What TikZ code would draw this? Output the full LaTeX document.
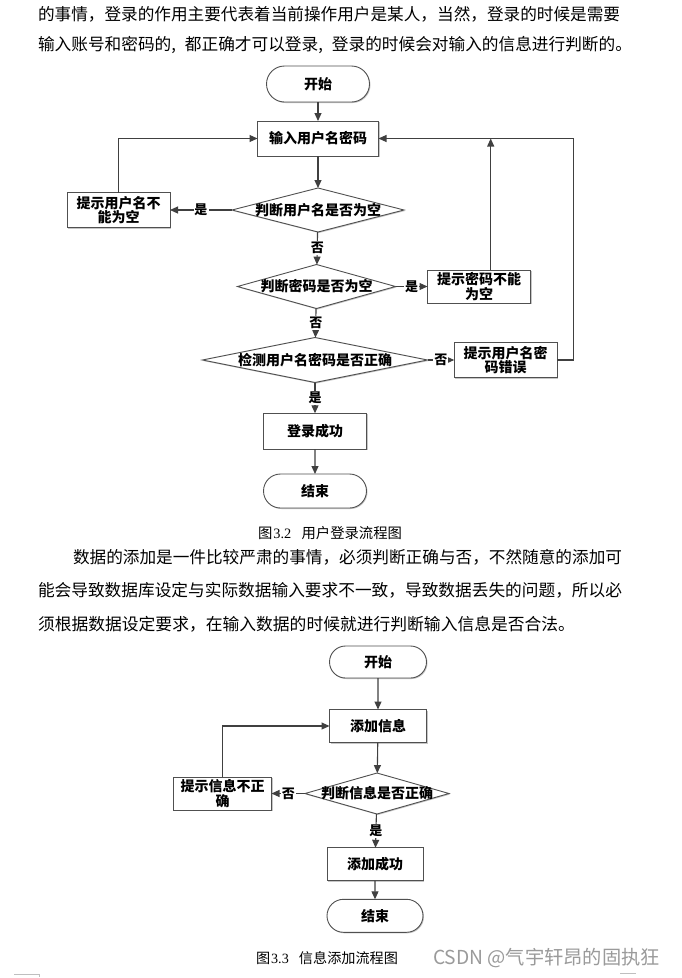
\documentclass[tikz,border=0pt]{standalone}
\usepackage{fontspec}
\usepackage{graphicx}
\setmainfont{Liberation Serif}
\newfontfamily\cjk{Noto Sans CJK SC}
\newfontfamily\capfont{Liberation Serif}
\usetikzlibrary{arrows.meta,shapes.geometric,shapes.misc,shadows}
\definecolor{lc}{HTML}{404040}
\definecolor{bc}{HTML}{505050}
\definecolor{wmc}{HTML}{9A9A9A}
\begin{document}
\begin{tikzpicture}[x=1pt,y=-1pt,
  every node/.style={inner sep=0pt, outer sep=0pt},
  nodetext/.style={font=\cjk\fontsize{14}{14.5}\selectfont\bfseries, text=black, align=center},
  shad/.style={drop shadow={shadow xshift=1pt, shadow yshift=-1pt, fill=gray!45, opacity=1}},
  box/.style={nodetext, rectangle, draw=bc, line width=0.9pt, fill=white, shad},
  term/.style={nodetext, rounded rectangle, draw=bc, line width=0.9pt, fill=white, shad},
  dia/.style={nodetext, diamond, draw=bc, line width=0.9pt, fill=white, shad},
  flow/.style={draw=lc, line width=1.1pt, -{Triangle[length=8pt,width=7pt]}},
  yn/.style={font=\cjk\fontsize{13}{13}\selectfont\bfseries, fill=white, inner sep=1pt},
  body/.style={font=\cjk\fontsize{16.7}{16.7}\selectfont, anchor=west},
  captxt/.style={font=\cjk\fontsize{14}{14}\selectfont, anchor=west},
  wm/.style={font=\cjk\fontsize{21}{21}\selectfont, text=wmc, anchor=west},
  cmark/.style={draw=gray!50, line width=0.8pt},
]
\fill[white] (0,0) rectangle (682,978);
\useasboundingbox (0,0) rectangle (682,978);

% text above
\node[body] (t1) at (38,14) {\resizebox{582pt}{!}{的事情，登录的作用主要代表着当前操作用户是某人，当然，登录的时候是需要}};
\node[body] (t2) at (38,45) {\resizebox{594pt}{!}{输入账号和密码的,\hspace{9pt}都正确才可以登录,\hspace{9pt}登录的时候会对输入的信息进行判断的。}};

% diagram 1
\node[term, minimum width=103pt, minimum height=36pt] (s1) at (318,84) {开始};
\node[box, minimum width=121pt, minimum height=35pt] (in1) at (318,138.5) {输入用户名密码};
\node[dia, minimum width=172pt, minimum height=44pt] (d1) at (318,210) {\makebox[0pt]{判断用户名是否为空}};
\node[box, minimum width=103pt, minimum height=35pt] (b1) at (118.5,210) {提示用户名不\\能为空};
\node[dia, minimum width=158pt, minimum height=44pt] (d2) at (316.5,286.5) {\makebox[0pt]{判断密码是否为空}};
\node[box, minimum width=103pt, minimum height=33pt] (b2) at (479,286.5) {提示密码不能\\为空};
\node[dia, minimum width=225pt, minimum height=45pt] (d3) at (315,360) {\makebox[0pt]{检测用户名密码是否正确}};
\node[box, minimum width=103pt, minimum height=35pt] (b3) at (505.7,360) {提示用户名密\\码错误};
\node[box, minimum width=103pt, minimum height=36pt] (ok1) at (315,431.3) {登录成功};
\node[term, minimum width=103pt, minimum height=34pt] (e1) at (315,491) {结束};

\coordinate (j2) at (490.7,138.5);
\coordinate (rc) at (573.5,138.5);

\draw[flow] (s1) -- (in1);
\draw[flow] (in1) -- (d1);
\draw[flow] (d1) -- node[yn] {是} (b1);
\draw[flow] (b1) |- (in1);
\draw[flow] (d1) -- node[yn] {否} (d2);
\draw[flow] (d2) -- node[yn] {是} (b2);
\draw[flow] ([xshift=11.7pt]b2.north) -- (j2);
\draw[flow] (d2) -- node[yn] {否} (d3);
\draw[flow] (d3) -- node[yn] {否} (b3);
\draw[flow] (b3.east) -| (rc) -- (in1.east);
\draw[flow] (d3) -- node[yn] {是} (ok1);
\draw[flow] (ok1) -- (e1);

\node[captxt] (c1) at (258,533) {\resizebox{144pt}{!}{图\hspace{1pt}{\capfont 3.2}\hspace{10pt}用户登录流程图}};

% paragraph
\node[body] (p1) at (73,557) {\resizebox{549pt}{!}{数据的添加是一件比较严肃的事情，必须判断正确与否，不然随意的添加可}};
\node[body] (p2) at (38,590) {\resizebox{584pt}{!}{能会导致数据库设定与实际数据输入要求不一致，导致数据丢失的问题，所以必}};
\node[body] (p3) at (38,624) {\resizebox{537pt}{!}{须根据数据设定要求，在输入数据的时候就进行判断输入信息是否合法。}};

% diagram 2
\node[term, minimum width=97pt, minimum height=32pt] (s2) at (378,662) {开始};
\node[box, minimum width=97pt, minimum height=33pt] (in2) at (378,726) {添加信息};
\node[dia, minimum width=144pt, minimum height=41pt] (d4) at (377,793.5) {\makebox[0pt]{判断信息是否正确}};
\node[box, minimum width=98pt, minimum height=33pt] (b4) at (222.5,793.5) {提示信息不正\\确};
\node[box, minimum width=96pt, minimum height=33pt] (ok2) at (375,864.3) {添加成功};
\node[term, minimum width=96pt, minimum height=33pt] (e2) at (375,915.8) {结束};

\draw[flow] (s2) -- (in2);
\draw[flow] (in2) -- (d4);
\draw[flow] (d4) -- node[yn] {否} (b4);
\draw[flow] (b4) |- (in2);
\draw[flow] (d4) -- node[yn] {是} (ok2);
\draw[flow] (ok2) -- (e2);

\node[captxt] (c2) at (256,958) {\resizebox{142pt}{!}{图\hspace{1pt}{\capfont 3.3}\hspace{10pt}信息添加流程图}};
\node[wm] (wm) at (433,958) {\resizebox{227pt}{!}{CSDN @气宇轩昂的固执狂}};

% corner marks
\draw[cmark] (14,974) -- (39,974) -- (39,977);
\draw[cmark] (620,973.5) -- (636,973.5);
\end{tikzpicture}
\end{document}
